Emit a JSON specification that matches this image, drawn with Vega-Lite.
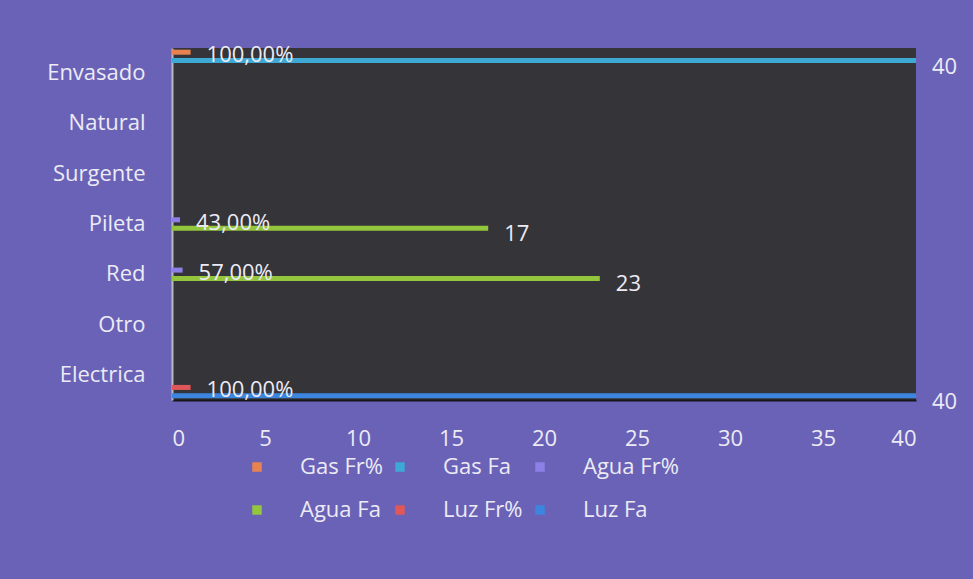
{
  "$schema": "https://vega.github.io/schema/vega-lite/v6.json",
  "autosize": {"type": "none"},
  "padding": {"left": 172, "top": 48, "right": 57, "bottom": 179},
  "width": 744,
  "height": 352,
  "background": "#6a62b6",
  "config": {
    "font": "Open Sans",
    "view": {"fill": "#353439", "stroke": null}
  },
  "data": {
    "values": [
      {"categoria": "Envasado", "serie": "Gas Fr%", "valor": 1, "etiqueta": "100,00%"},
      {"categoria": "Envasado", "serie": "Gas Fa", "valor": 40, "etiqueta": "40"},
      {"categoria": "Pileta", "serie": "Agua Fr%", "valor": 0.43, "etiqueta": "43,00%"},
      {"categoria": "Pileta", "serie": "Agua Fa", "valor": 17, "etiqueta": "17"},
      {"categoria": "Red", "serie": "Agua Fr%", "valor": 0.57, "etiqueta": "57,00%"},
      {"categoria": "Red", "serie": "Agua Fa", "valor": 23, "etiqueta": "23"},
      {"categoria": "Electrica", "serie": "Luz Fr%", "valor": 1, "etiqueta": "100,00%"},
      {"categoria": "Electrica", "serie": "Luz Fa", "valor": 40, "etiqueta": "40"}
    ]
  },
  "encoding": {
    "y": {
      "field": "categoria",
      "type": "nominal",
      "sort": ["Envasado", "Natural", "Surgente", "Pileta", "Red", "Otro", "Electrica"],
      "scale": {"domain": ["Envasado", "Natural", "Surgente", "Pileta", "Red", "Otro", "Electrica"], "paddingInner": 0, "paddingOuter": 0},
      "axis": {
        "title": null,
        "ticks": false,
        "domain": true,
        "domainColor": "#b9b7c4",
        "domainWidth": 2,
        "labelPadding": 27,
        "labelFontSize": 22,
        "labelColor": "#ecebf5"
      }
    },
    "yOffset": {
      "field": "serie",
      "type": "nominal",
      "sort": ["Gas Fr%", "Gas Fa", "Agua Fr%", "Agua Fa", "Luz Fr%", "Luz Fa"],
      "scale": {"domain": ["Gas Fr%", "Gas Fa", "Agua Fr%", "Agua Fa", "Luz Fr%", "Luz Fa"], "paddingInner": 0.4, "paddingOuter": 0.2}
    },
    "x": {
      "field": "valor",
      "type": "quantitative",
      "scale": {"domain": [0, 40], "nice": false},
      "axis": {
        "title": null,
        "values": [0, 5, 10, 15, 20, 25, 30, 35, 40],
        "grid": false,
        "ticks": false,
        "domain": true,
        "domainColor": "#15151a",
        "domainWidth": 2,
        "labelPadding": 28,
        "labelFontSize": 22,
        "labelColor": "#ecebf5"
      }
    }
  },
  "layer": [
    {
      "mark": {"type": "bar"},
      "encoding": {
        "color": {
          "field": "serie",
          "type": "nominal",
          "scale": {
            "domain": ["Gas Fr%", "Gas Fa", "Agua Fr%", "Agua Fa", "Luz Fr%", "Luz Fa"],
            "range": ["#e8834f", "#3fa9d6", "#8c80e6", "#93c63d", "#e0575a", "#3d86e0"]
          },
          "legend": {
            "title": null,
            "orient": "none",
            "legendX": 74,
            "legendY": 408,
            "columns": 3,
            "direction": "horizontal",
            "symbolType": "square",
            "symbolSize": 90,
            "symbolStrokeWidth": 0,
            "labelFontSize": 22,
            "labelColor": "#ecebf5",
            "labelOffset": 32,
            "columnPadding": 6,
            "rowPadding": 21
          }
        }
      }
    },
    {
      "transform": [{"filter": "indexof(datum.serie, 'Fr%') >= 0"}],
      "mark": {"type": "text", "align": "left", "baseline": "middle", "dx": 16, "dy": 3, "fontSize": 22, "color": "#ecebf5"},
      "encoding": {
        "text": {"field": "etiqueta", "type": "nominal"}
      }
    },
    {
      "transform": [{"filter": "indexof(datum.serie, 'Fr%') < 0"}],
      "mark": {"type": "text", "align": "left", "baseline": "middle", "dx": 16, "dy": 6, "fontSize": 22, "color": "#ecebf5"},
      "encoding": {
        "text": {"field": "etiqueta", "type": "nominal"}
      }
    }
  ]
}
